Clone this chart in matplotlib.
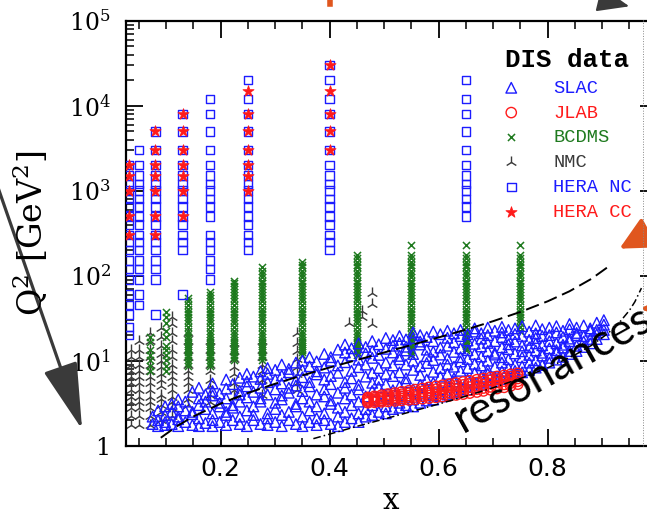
import matplotlib
matplotlib.use("Agg")
import matplotlib.pyplot as plt
from matplotlib.patches import FancyArrowPatch
from matplotlib.lines import Line2D

plt.rcParams['mathtext.fontset'] = 'dejavuserif'

W, H = 647, 514

# ---- data ----
hera_nc_x = [0.032, 0.05, 0.08, 0.13, 0.18, 0.25, 0.40, 0.65]
hera_nc_q2 = [
    [20, 25, 35, 45, 60, 90, 120, 150, 200, 250, 300, 400, 500, 650, 800, 1000, 1200, 1500, 2000],
    [45, 60, 90, 120, 150, 200, 250, 300, 400, 500, 650, 800, 1000, 1200, 1500, 2000, 3000],
    [35, 90, 120, 150, 200, 250, 300, 400, 500, 650, 800, 1000, 1200, 1500, 2000, 3000, 5000],
    [60, 200, 250, 300, 400, 500, 650, 800, 1000, 1200, 1500, 2000, 3000, 5000, 8000],
    [90, 120, 150, 200, 250, 300, 500, 650, 800, 1000, 1200, 1500, 2000, 3000, 5000, 8000, 12000],
    [200, 250, 300, 400, 500, 650, 800, 1000, 1200, 1500, 2000, 3000, 5000, 8000, 12000, 20000],
    [200, 250, 300, 400, 500, 650, 800, 1000, 1200, 1500, 2000, 3000, 5000, 8000, 12000, 20000, 30000],
    [500, 650, 800, 1000, 1200, 1500, 2000, 3000, 5000, 8000, 12000, 20000],
]

hera_cc_x = [0.032, 0.08, 0.13, 0.25, 0.40]
hera_cc_q2 = [
    [300, 500, 1000, 1500, 2000],
    [300, 500, 1000, 1500, 2000, 3000, 5000],
    [500, 1000, 1500, 2000, 3000, 5000, 8000],
    [1000, 1500, 2000, 3000, 5000, 8000, 15000],
    [3000, 5000, 8000, 15000, 30000],
]

bcdms_x = [0.07, 0.10, 0.14, 0.18, 0.225, 0.275, 0.35, 0.45, 0.55, 0.65, 0.75]
bcdms_q2 = [
    [7.5, 8.75, 10.25, 11.75, 13.25, 16.5, 19],
    [7.5, 8.75, 10.25, 11.75, 13.25, 14.75, 19, 22.5, 27.5, 32.5, 37.5],
    [8.75, 9.5, 10.25, 11.0, 11.75, 12.5, 13.25, 14.0, 14.75, 15.6, 16.5, 17.7, 19, 20.7,
     22.5, 25, 27.5, 30, 32.5, 35, 37.5, 41, 45, 50, 55],
    [8.75, 9.5, 10.25, 11.0, 11.75, 12.5, 13.25, 14.0, 14.75, 15.6, 16.5, 17.7, 19, 20.7,
     22.5, 25, 27.5, 30, 32.5, 35, 37.5, 41, 45, 50, 55, 60, 65],
    [10.25, 11.0, 11.75, 12.5, 13.25, 14.0, 14.75, 15.6, 16.5, 17.7, 19, 20.7, 22.5, 25,
     27.5, 30, 32.5, 35, 37.5, 41, 45, 50, 55, 60, 65, 70, 75, 81, 87.5],
    [10.25, 11.0, 11.75, 12.5, 13.25, 14.0, 14.75, 15.6, 16.5, 17.7, 19, 20.7, 22.5, 25,
     27.5, 30, 32.5, 35, 37.5, 41, 45, 50, 55, 60, 65, 70, 75, 81, 87.5, 96, 105, 115, 125],
    [11.75, 12.5, 13.25, 14.0, 14.75, 15.6, 16.5, 17.7, 19, 20.7, 22.5, 25, 27.5, 30, 32.5,
     35, 37.5, 41, 45, 50, 55, 60, 65, 70, 75, 81, 87.5, 96, 105, 115, 125, 135, 145],
    [11.75, 12.5, 13.25, 14.0, 14.75, 15.6, 16.5, 17.7, 19, 20.7, 22.5, 25, 27.5, 30, 32.5,
     35, 37.5, 41, 45, 50, 55, 60, 65, 70, 75, 81, 87.5, 96, 105, 115, 125, 135, 145, 160, 175],
    [11.75, 12.5, 13.25, 14.0, 14.75, 15.6, 16.5, 17.7, 19, 20.7, 22.5, 25, 27.5, 30, 32.5,
     35, 37.5, 41, 45, 50, 55, 60, 65, 70, 75, 81, 87.5, 96, 105, 115, 125, 135, 145, 160,
     175, 230],
    [13.25, 14.0, 14.75, 15.6, 16.5, 17.7, 19, 20.7, 22.5, 25, 27.5, 30, 32.5, 35, 37.5,
     41, 45, 50, 55, 60, 65, 70, 75, 81, 87.5, 96, 105, 115, 125, 135, 145, 160, 175, 230],
    [22.5, 25, 27.5, 30, 32.5, 35, 37.5, 41, 45, 50, 55, 60, 65, 70, 75, 81, 87.5, 96, 105,
     115, 125, 135, 145, 160, 175, 230],
]

nmc_x = [0.035, 0.05, 0.07, 0.09, 0.11, 0.14, 0.18, 0.225, 0.275, 0.34, 0.435, 0.46, 0.478]
nmc_q2 = [
    [1.75, 2.25, 2.75, 3.25, 3.75, 4.5, 5.5, 6.5, 7.5, 9, 11, 13.5],
    [1.75, 2.25, 2.75, 3.25, 3.75, 4.5, 5.5, 6.5, 7.5, 9, 11, 13.5, 17],
    [1.75, 2.25, 2.75, 3.25, 3.75, 4.5, 5.5, 6.5, 7.5, 9, 11, 13.5, 17, 21],
    [2.0, 2.5, 3.0, 3.5, 4.0, 5.0, 6.0, 7.0, 8.5, 10, 12, 15, 19, 24],
    [2.25, 2.75, 3.25, 3.75, 4.5, 5.5, 6.5, 7.5, 9, 11, 13.5, 17, 21, 27, 33],
    [3.0, 3.5, 4.5, 5.5, 6.5, 7.5, 9, 11, 13.5, 17, 21],
    [3.25, 4.0, 5.0, 6.0, 7.5, 9, 11, 13.5, 17],
    [3.75, 4.5, 5.5, 7, 8.5, 10.5, 13, 16],
    [4.0, 5.0, 6.0, 7.5, 9, 11, 13.5, 17],
    [4.5, 5.5, 7, 8.5, 10.5, 13, 16, 21],
    [28],
    [33, 38],
    [27, 47, 62],
]

slac_x = [0.075, 0.085, 0.098, 0.11, 0.122, 0.135, 0.148, 0.16, 0.172, 0.185,
          0.198, 0.21, 0.222, 0.235, 0.248, 0.26, 0.273, 0.286, 0.30, 0.312,
          0.325, 0.338, 0.35, 0.363, 0.376, 0.39, 0.402, 0.415, 0.428, 0.44,
          0.453, 0.466, 0.478, 0.49, 0.503, 0.516, 0.528, 0.54, 0.553, 0.566,
          0.578, 0.59, 0.603, 0.616, 0.628, 0.64, 0.653, 0.666, 0.678, 0.69,
          0.703, 0.716, 0.728, 0.74, 0.753, 0.766, 0.778, 0.79, 0.803, 0.816,
          0.828, 0.84, 0.853, 0.866, 0.878, 0.89, 0.903]
slac_q2 = [
    [1.8, 2.2],
    [1.7, 2.0, 2.6],
    [1.75, 1.9, 2.3, 2.9],
    [1.8, 2.5, 3.1],
    [1.7, 2.05, 2.2, 2.9, 3.5],
    [1.9, 2.6, 3.3],
    [1.75, 2.35, 2.5, 4.3],
    [1.7, 2.1, 3.0, 3.6, 4.8],
    [1.85, 2.7, 3.3, 4.0],
    [1.7, 2.0, 2.4, 3.9, 4.4, 5.4],
    [1.9, 2.9, 3.2, 4.1],
    [1.75, 2.3, 2.5, 3.6, 4.7, 6.0],
    [2.0, 2.8, 3.0, 5.3],
    [1.8, 2.2, 3.3, 4.0, 4.4, 6.3],
    [1.7, 2.6, 3.7, 5.0, 5.7, 7.0],
    [2.0, 2.3, 2.9, 4.3, 6.5],
    [1.8, 3.3, 3.6, 4.8, 6.1, 7.5],
    [1.75, 2.1, 2.4, 4.0, 5.6, 7.0, 8.2],
    [1.9, 2.7, 3.2, 4.6, 6.0, 7.8],
    [1.7, 2.3, 3.5, 3.9, 5.4, 6.7, 9.0],
    [2.0, 2.5, 4.2, 4.8, 7.3, 8.0],
    [1.8, 2.9, 3.1, 5.1, 5.9, 9.5],
    [1.7, 2.2, 3.6, 4.4, 6.4, 7.8, 10.0],
    [1.9, 2.6, 3.3, 5.0, 5.6, 8.6, 11.0],
    [1.75, 2.1, 2.9, 4.0, 6.9, 7.5, 9.8],
    [2.0, 2.4, 3.8, 4.6, 6.0, 8.3, 12.0],
    [1.8, 3.1, 3.4, 5.3, 6.6, 10.0, 11.0],
    [1.7, 2.2, 2.8, 4.2, 7.2, 8.8, 13.5],
    [1.9, 2.5, 3.6, 4.8, 5.6, 9.6, 12.5, 15.5],
    [2.1, 3.0, 4.0, 6.2, 7.6, 11.5, 14.0],
    [1.9, 2.4, 3.3, 4.6, 5.2, 8.4, 10.3, 16.0],
    [2.2, 2.7, 3.8, 6.5, 9.0, 12.2, 14.5],
    [2.3, 3.0, 4.4, 5.5, 7.2, 10.8, 13.0, 17.0],
    [2.5, 3.4, 4.9, 6.0, 8.2, 11.7, 15.6],
    [2.4, 2.9, 3.9, 5.3, 7.0, 9.5, 13.8, 18.5],
    [2.7, 3.6, 4.5, 6.6, 8.8, 12.5, 15.0, 17.5],
    [2.8, 3.2, 5.0, 7.3, 10.4, 11.4, 16.2, 19.5],
    [3.0, 3.9, 5.6, 6.2, 9.0, 13.2, 14.6, 17.8],
    [2.9, 3.5, 4.6, 7.8, 10.0, 12.0, 18.5, 21.5],
    [3.2, 4.2, 5.2, 6.8, 8.6, 15.5, 16.8, 20.0],
    [3.4, 4.8, 6.0, 9.4, 11.3, 13.5, 19.0],
    [3.5, 3.9, 5.5, 7.4, 10.2, 12.8, 17.0, 22.0],
    [3.8, 4.6, 6.5, 8.2, 11.8, 14.3, 20.5],
    [4.0, 5.2, 7.0, 9.0, 10.6, 15.0, 18.6, 22.5],
    [4.2, 5.7, 6.2, 8.5, 12.7, 16.5, 21.0],
    [4.4, 5.0, 7.6, 9.8, 11.0, 14.0, 19.5, 23.0],
    [4.6, 6.0, 8.2, 10.5, 13.3, 17.3, 20.5],
    [4.9, 5.5, 7.2, 9.2, 12.0, 15.8, 22.0, 24.0],
    [5.2, 6.5, 8.8, 11.2, 14.7, 18.2, 21.0],
    [5.5, 7.0, 7.8, 10.0, 13.0, 16.2, 20.0, 24.5],
    [5.8, 6.4, 8.5, 11.8, 12.4, 17.0, 22.5],
    [6.1, 7.5, 9.5, 11.0, 14.4, 19.0, 21.5, 25.0],
    [6.5, 8.2, 10.4, 13.7, 15.6, 18.0, 23.0],
    [6.9, 7.6, 9.0, 12.2, 16.8, 20.6, 24.0],
    [7.3, 8.6, 11.0, 12.9, 15.1, 19.6, 25.5],
    [7.8, 9.5, 11.7, 14.4, 17.6, 22.0],
    [8.3, 10.1, 13.2, 16.0, 18.5, 21.0, 26.0],
    [8.9, 11.5, 12.4, 15.2, 19.5, 23.5],
    [9.5, 10.8, 14.0, 17.0, 20.0, 24.5],
    [10.3, 12.4, 13.3, 16.1, 21.5, 25.5],
    [11.1, 14.3, 15.4, 19.0, 22.5],
    [12.0, 13.0, 17.0, 18.2, 23.5, 27.0],
    [13.0, 15.0, 20.0, 21.2, 24.5],
    [14.5, 16.8, 19.5, 26.0],
    [16.0, 18.0, 22.5, 24.0],
    [18.0, 20.5, 23.0, 28.0],
    [20.5, 23.0, 26.5, 30.0],
]

jlab_x = [0.47, 0.482, 0.495, 0.507, 0.52, 0.532, 0.545, 0.557, 0.57, 0.582, 0.595, 0.607,
          0.62, 0.632, 0.645, 0.657, 0.67, 0.682, 0.695, 0.707, 0.72, 0.732, 0.745]
jlab_q2_rows = [
    [3.20, 3.24, 3.28, 3.32, 3.36, 3.41, 3.46, 3.51, 3.57, 3.63, 3.70, 3.78,
     3.86, 3.95, 4.05, 4.16, 4.28, 4.41, 4.55, 4.70, 4.86, 5.05, 5.30],
    [3.32, 3.37, 3.43, 3.48, 3.54, 3.60, 3.67, 3.74, 3.82, 3.90, 3.98, 4.07,
     4.17, 4.27, 4.38, 4.50, 4.63, 4.77, 4.92, 5.08, 5.25, 5.45, 5.72],
    [3.45, 3.51, 3.58, 3.65, 3.73, 3.81, 3.89, 3.98, 4.08, 4.18, 4.28, 4.39,
     4.51, 4.63, 4.76, 4.90, 5.05, 5.21, 5.38, 5.56, 5.75, 5.95, 6.18],
    [3.57, 3.65, 3.74, 3.83, 3.93, 4.03, 4.14, 4.25, 4.37, 4.49, 4.62, 4.75,
     4.89, 5.04, 5.19, 5.35, 5.52, 5.70, 5.89, 6.08, 6.28, 6.48, 6.65],
    [3.70, 3.81, 3.93, 4.05, 4.17, 4.30, 4.43, 4.57, 4.71, 4.85, 5.00, 5.15,
     5.31, 5.47, 5.63, 5.80, 5.98, 6.16, 6.34, 6.53, 6.72, 6.92, 7.10],
]

# W^2 cut curves
dashed_x = [0.09, 0.12, 0.15, 0.2, 0.25, 0.3, 0.35, 0.4, 0.45, 0.5, 0.55, 0.6,
            0.65, 0.7, 0.75, 0.8, 0.84, 0.88, 0.91]
dashed_q2 = [1.24, 1.70, 2.21, 3.13, 4.17, 5.36, 6.73, 8.33, 10.2, 12.5, 15.3, 18.8,
             23.2, 29.2, 37.5, 50.0, 65.6, 91.7, 126]
dashdot_x = [0.37, 0.4, 0.45, 0.5, 0.55, 0.6, 0.65, 0.7, 0.75, 0.8, 0.85, 0.88,
             0.91, 0.93, 0.95, 0.96, 0.972]
dashdot_q2 = [1.21, 1.37, 1.69, 2.06, 2.52, 3.09, 3.83, 4.81, 6.18, 8.24, 11.7, 15.1,
              20.8, 27.4, 39.1, 49.4, 71.5]

ytick_vals = [1, 10, 100, 1000, 10000, 100000]
ytick_labels = ['1', r'$\mathdefault{10^{1}}$', r'$\mathdefault{10^{2}}$',
                r'$\mathdefault{10^{3}}$', r'$\mathdefault{10^{4}}$', r'$\mathdefault{10^{5}}$']
xtick_vals = [0.2, 0.4, 0.6, 0.8]
xtick_labels = ['0.2', '0.4', '0.6', '0.8']

legend_labels = ['SLAC', 'JLAB', 'BCDMS', 'NMC', 'HERA NC', 'HERA CC']

BLUE = '#1c1cff'
RED = '#ff1a1a'
GREEN = '#1f7a1f'
GRAY = '#3a3a3a'
ORANGE = '#e0561e'


def flat(xs, qs):
    px = [x for x, col in zip(xs, qs) for _ in col]
    py = [q for col in qs for q in col]
    return px, py


fig = plt.figure(figsize=(W / 100, H / 100), dpi=100)
ax = fig.add_axes([126 / W, (H - 445.7) / H, (656.7 - 126) / W, 425 / H])

nx, ny = flat(nmc_x, nmc_q2)
h_nmc = ax.scatter(nx, ny, marker='2', s=75, color=GRAY, linewidths=1.0, zorder=2)
bx, by = flat(bcdms_x, bcdms_q2)
h_bcdms = ax.scatter(bx, by, marker='x', s=26, color=GREEN, linewidths=1.1, zorder=3)
hx, hy = flat(hera_nc_x, hera_nc_q2)
h_nc = ax.scatter(hx, hy, marker='s', s=38, facecolors='none', edgecolors=BLUE,
                  linewidths=1.0, zorder=3)
sx, sy = flat(slac_x, slac_q2)
h_slac = ax.scatter(sx, sy, marker='^', s=58, facecolors='none', edgecolors=BLUE,
                    linewidths=1.0, zorder=4)
jx = [x for row in jlab_q2_rows for x in jlab_x]
jy = [q for row in jlab_q2_rows for q in row]
h_jlab = ax.scatter(jx, jy, marker='o', s=55, facecolors='none', edgecolors=RED,
                    linewidths=1.0, zorder=5)
cx, cy = flat(hera_cc_x, hera_cc_q2)
h_cc = ax.scatter(cx, cy, marker='*', s=70, color=RED, linewidths=0.6, zorder=6)

ax.plot(dashed_x, dashed_q2, color='black', lw=1.4, dashes=(7, 3), zorder=7)
ax.plot(dashdot_x, dashdot_q2, color='black', lw=1.1, dashes=(5, 2, 1, 2), zorder=7)

ax.set_yscale('log')
ax.set_xlim(0.0262, 1.0)
ax.set_ylim(1, 1e5)
ax.set_yticks(ytick_vals)
ax.set_yticklabels(ytick_labels, fontfamily='DejaVu Serif', fontsize=17)
ax.set_xticks(xtick_vals)
ax.set_xticklabels(xtick_labels, fontfamily='DejaVu Sans', fontsize=18)
ax.set_xticks([0.05, 0.1, 0.15, 0.25, 0.3, 0.35, 0.45, 0.5, 0.55, 0.65, 0.7, 0.75,
               0.85, 0.9, 0.95], minor=True)
ax.tick_params(which='both', direction='in', top=True, right=True, colors='black')
ax.tick_params(which='major', length=12, width=1.3)
ax.tick_params(which='minor', length=6, width=1.1)
ax.tick_params(axis='y', which='major', pad=11)
ax.tick_params(axis='x', which='major', pad=8)
for sp in ax.spines.values():
    sp.set_linewidth(1.6)

ax.set_xlabel('x', fontfamily='DejaVu Serif', fontsize=21, va='baseline')
ax.xaxis.set_label_coords(0.5, (445.7 - 509) / 425)
fig.text(30 / W, 1 - 233 / H, r'Q$^2$ [GeV$^2$]', rotation=90, ha='center',
         va='center', fontfamily='DejaVu Serif', fontsize=24)

leg = ax.legend([h_slac, h_jlab, h_bcdms, h_nmc, h_nc, h_cc], legend_labels,
                loc='upper left', bbox_to_anchor=(494 / W, 1 - 40 / H),
                bbox_transform=fig.transFigure, frameon=False, scatterpoints=1,
                handlelength=1.0, handletextpad=1.75, labelspacing=0.41,
                borderpad=0.42, borderaxespad=0,
                prop={'family': 'Liberation Mono', 'size': 13.5},
                labelcolor=[BLUE, RED, GREEN, GRAY, BLUE, RED],
                title='DIS data', alignment='center',
                title_fontproperties={'family': 'Liberation Mono', 'weight': 'bold',
                                      'size': 18.5})
leg.set_zorder(10)

# slide overlay marks around the chart
def fp(x, y):
    return (x / W, 1 - y / H)

fig.add_artist(FancyArrowPatch(fp(-6, 176), fp(83, 432), transform=fig.transFigure,
                               arrowstyle='-|>,head_length=42,head_width=11',
                               mutation_scale=1, lw=2.3, color=GRAY))
fig.add_artist(FancyArrowPatch(fp(520, -20), fp(632, 7), transform=fig.transFigure,
                               arrowstyle='-|>,head_length=20,head_width=8',
                               mutation_scale=1, lw=1.5, color=GRAY))
fig.add_artist(FancyArrowPatch(fp(700, 205), fp(617, 250), transform=fig.transFigure,
                               arrowstyle='-|>,head_length=20,head_width=10',
                               mutation_scale=1, lw=3, color=ORANGE))
fig.add_artist(FancyArrowPatch(fp(690, 306), fp(637, 309), transform=fig.transFigure,
                               arrowstyle='-|>,head_length=14,head_width=6',
                               mutation_scale=1, lw=3, color=ORANGE))
fig.add_artist(Line2D([329.5 / W, 329.5 / W], [1.0, 1 - 4 / H], transform=fig.transFigure,
                      lw=4, color=ORANGE))
fig.add_artist(Line2D([642.5 / W, 642.5 / W], [1 - 20 / H, 1 - 446 / H],
                      transform=fig.transFigure, lw=0.7, color='#888888', ls=':'))

fig.text(463 / W, 1 - 433 / H, 'resonances', rotation=29, rotation_mode='anchor',
         ha='left', va='baseline', fontfamily='Lato', fontsize=32, color='black',
         zorder=20)

fig.savefig('out.png', dpi=100)
